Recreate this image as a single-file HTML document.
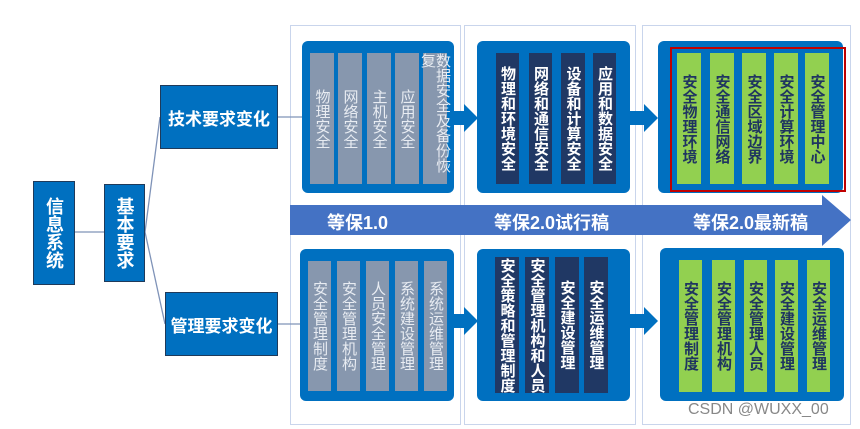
<!DOCTYPE html>
<html><head><meta charset="utf-8"><style>
body{margin:0;width:860px;height:429px;background:#fff;position:relative;overflow:hidden;font-family:"Liberation Sans","Noto Sans CJK SC",sans-serif}
.a{position:absolute;box-sizing:border-box}
.fr{border:1px solid #c9d5ec}
.box{background:#0070c0;border:1px solid #1f3a5a;color:#fff;font-weight:bold;display:flex;align-items:center;justify-content:center}
.v{writing-mode:vertical-rl;text-orientation:upright;letter-spacing:0}
.pn{background:#0070c0;border-radius:6px}
.p{display:flex;align-items:center;justify-content:center;font-size:15px;line-height:1}
.g{background:#8797ae;color:#e8ecf2}
.d{background:#203864;color:#fff;font-weight:bold}
.n{background:#92d050;color:#1f3560;font-weight:bold}
.t{position:absolute;color:#fff;font-weight:bold;font-size:18px;top:209px}
</style></head><body>
<div class="a fr" style="left:290px;top:25px;width:171px;height:400px"></div>
<div class="a fr" style="left:464px;top:25px;width:172px;height:400px"></div>
<div class="a fr" style="left:642px;top:25px;width:209px;height:400px"></div>

<svg class="a" style="left:0;top:0" width="860" height="429">
<g stroke="#7f93b8" stroke-width="1.3" fill="none">
<line x1="75" y1="232" x2="104" y2="232"/>
<polyline points="160,117 145,232 165,324"/>
<line x1="278" y1="117" x2="302" y2="117"/>
<line x1="278" y1="324" x2="300" y2="324"/>
</g>
<polygon points="290,205 822,205 822,195 851,220 822,246 822,235 290,235" fill="#4472c4"/>
<g fill="#0070c0">
<rect x="452" y="111" width="12" height="14"/><polygon points="464,104 478,118 464,132"/>
<rect x="629" y="111" width="15" height="14"/><polygon points="644,104 658,118 644,132"/>
<rect x="452" y="314" width="12" height="14"/><polygon points="464,307 478,321 464,335"/>
<rect x="629" y="314" width="15" height="14"/><polygon points="644,307 658,321 644,335"/>
</g>
</svg>
<div class="t" style="left:327px">等保1.0</div>
<div class="t" style="left:494px">等保2.0试行稿</div>
<div class="t" style="left:693px">等保2.0最新稿</div>

<div class="a box v" style="left:33px;top:181px;width:42px;height:104px;font-size:18px">信息系统</div>
<div class="a box v" style="left:104px;top:184px;width:41px;height:98px;font-size:18px">基本要求</div>
<div class="a box" style="left:160px;top:85px;width:118px;height:64px;font-size:17px">技术要求变化</div>
<div class="a box" style="left:165px;top:292px;width:113px;height:64px;font-size:17px">管理要求变化</div>

<!-- top panels -->
<div class="a pn" style="left:302px;top:41px;width:152px;height:152px"></div>
<div class="a p g v" style="left:310px;top:53px;width:24px;height:131px">物理安全</div>
<div class="a p g v" style="left:338px;top:53px;width:24px;height:131px">网络安全</div>
<div class="a p g v" style="left:367px;top:53px;width:24px;height:131px">主机安全</div>
<div class="a p g v" style="left:395px;top:53px;width:24px;height:131px">应用安全</div>
<div class="a p g v" style="left:423px;top:53px;width:24px;height:131px">数据安全及备份恢复</div>

<div class="a pn" style="left:477px;top:41px;width:153px;height:152px"></div>
<div class="a p d v" style="left:496px;top:53px;width:23px;height:131px">物理和环境安全</div>
<div class="a p d v" style="left:529px;top:53px;width:23px;height:131px">网络和通信安全</div>
<div class="a p d v" style="left:561px;top:53px;width:24px;height:131px">设备和计算安全</div>
<div class="a p d v" style="left:593px;top:53px;width:23px;height:131px">应用和数据安全</div>

<div class="a pn" style="left:658px;top:41px;width:185px;height:152px"></div>
<div class="a p n v" style="left:677px;top:53px;width:24px;height:131px">安全物理环境</div>
<div class="a p n v" style="left:710px;top:53px;width:24px;height:131px">安全通信网络</div>
<div class="a p n v" style="left:742px;top:53px;width:24px;height:131px">安全区域边界</div>
<div class="a p n v" style="left:774px;top:53px;width:24px;height:131px">安全计算环境</div>
<div class="a p n v" style="left:805px;top:53px;width:24px;height:131px">安全管理中心</div>
<div class="a" style="left:670px;top:47px;width:176px;height:145px;border:2px solid #c00000"></div>

<!-- bottom panels -->
<div class="a pn" style="left:300px;top:249px;width:154px;height:152px"></div>
<div class="a p g v" style="left:308px;top:261px;width:23px;height:130px">安全管理制度</div>
<div class="a p g v" style="left:337px;top:261px;width:23px;height:130px">安全管理机构</div>
<div class="a p g v" style="left:366px;top:261px;width:23px;height:130px">人员安全管理</div>
<div class="a p g v" style="left:395px;top:261px;width:23px;height:130px">系统建设管理</div>
<div class="a p g v" style="left:424px;top:261px;width:23px;height:130px">系统运维管理</div>

<div class="a pn" style="left:477px;top:249px;width:153px;height:152px"></div>
<div class="a p d v" style="left:495px;top:257px;width:24px;height:136px">安全策略和管理制度</div>
<div class="a p d v" style="left:525px;top:257px;width:24px;height:136px">安全管理机构和人员</div>
<div class="a p d v" style="left:555px;top:257px;width:24px;height:136px">安全建设管理</div>
<div class="a p d v" style="left:584px;top:257px;width:24px;height:136px">安全运维管理</div>

<div class="a pn" style="left:660px;top:248px;width:184px;height:153px"></div>
<div class="a p n v" style="left:679px;top:260px;width:23px;height:132px">安全管理制度</div>
<div class="a p n v" style="left:712px;top:260px;width:23px;height:132px">安全管理机构</div>
<div class="a p n v" style="left:744px;top:260px;width:23px;height:132px">安全管理人员</div>
<div class="a p n v" style="left:775px;top:260px;width:23px;height:132px">安全建设管理</div>
<div class="a p n v" style="left:807px;top:260px;width:23px;height:132px">安全运维管理</div>

<div class="a" style="left:688px;top:401px;font-size:16px;color:#888">CSDN @WUXX_00</div>
</body></html>
